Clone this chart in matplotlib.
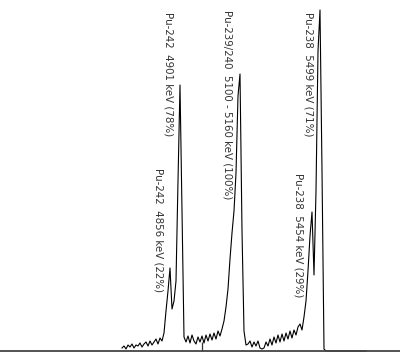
"""
Alpha spectrum of Pu isotopes (Pu-242, Pu-239/240, Pu-238)
"""
import numpy as np
import matplotlib.pyplot as plt

# channel numbers (step 2) and counts
channels = np.arange(122, 368, 2)
counts = [3, 5, 2, 6, 4, 7, 3, 6, 5, 8, 4, 7, 9, 5, 10, 6, 9, 12, 7, 13, 10,      # 122-162
          18, 40, 60, 83, 42, 50, 70, 170, 266, 140, 14,                           # 164-184
          9, 15, 8, 16, 10, 7, 14, 9, 15, 8, 16, 10, 17, 11, 18, 12, 20, 15, 22,   # 186-222
          30, 44, 62, 92, 118, 140, 178, 255, 277, 120, 20,                        # 224-244
          6, 7, 10, 4, 9, 5, 10, 3, 2, 3, 9, 5, 12, 6, 14, 8, 16, 9, 17, 10, 18,    # 246-286
          12, 20, 13, 21, 16, 24, 27, 21, 34, 50, 80, 115, 139, 76,                # 288-314
          160, 300, 341, 180, 2,                                                   # 316-324
          0, 0, 0, 0, 0, 0, 0, 0, 0, 0, 0, 0, 0, 0, 0, 0, 0, 0, 0, 0, 0]            # 326-366

# peak labels: text, channel, top of the text
labels = ["Pu-242  4901 keV (78%)",
          "Pu-242  4856 keV (22%)",
          "Pu-239/240  5100 - 5160 keV (100%)",
          "Pu-238  5499 keV (71%)",
          "Pu-238  5454 keV (29%)"]
label_x = [168, 158, 227, 308, 298]
label_top = [339, 183, 341, 339, 178]

marker_x = [201.5]

fig = plt.figure(figsize=(4.0, 3.61), dpi=100)
ax = fig.add_axes([0, 0, 1, 1])

ax.plot(channels, counts, color="black", lw=0.8)

for t, x, y in zip(labels, label_x, label_top):
    ax.text(x, y, t, rotation=270, ha="center", va="top",
            fontsize=7.4, color="#333333")

ax.set_xlim(0, 400)
ax.set_ylim(-10, 351)

for s in ["top", "left", "right"]:
    ax.spines[s].set_visible(False)
ax.spines["bottom"].set_position(("data", 0))
ax.spines["bottom"].set_color("#444444")
ax.spines["bottom"].set_linewidth(1.3)

ax.set_xticks(marker_x)
ax.set_xticklabels([])
ax.tick_params(axis="x", direction="in", length=6.5, width=0.9, color="#333333")
ax.set_yticks([])

plt.savefig("out.png", dpi=100)
